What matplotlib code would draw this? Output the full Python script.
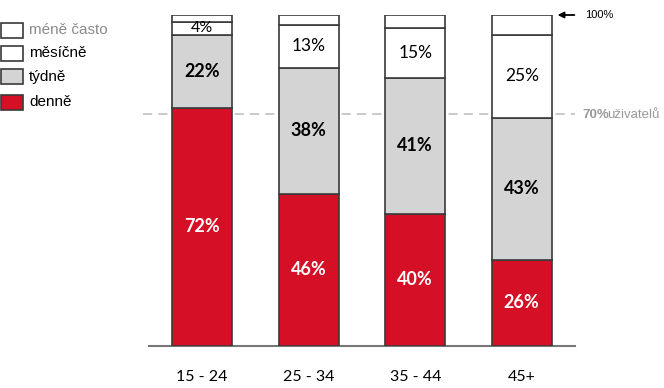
import matplotlib
matplotlib.use("Agg")
import matplotlib.pyplot as plt
from matplotlib.patches import Rectangle
import numpy as np

# data (percent of users)
groups = ["15 - 24", "25 - 34", "35 - 44", "45+"]
denne = [72, 46, 40, 26]
tydne = [22, 38, 41, 43]
mesicne = [4, 13, 15, 25]
mene_casto = [2, 3, 4, 6]

series_names = ["méně často", "měsíčně", "týdně", "denně"]

RED = "#D50F25"
GRAY = "#D4D4D4"
EDGE = "#3a3a3a"
LABEL_FONT = ["Lato", "DejaVu Sans"]
SANS = ["Liberation Sans", "DejaVu Sans"]

W, H = 664, 388
fig = plt.figure(figsize=(W / 100, H / 100), dpi=100)

# axes placed in pixel terms: x 149..575, y 15..346 (from top)
ax = fig.add_axes([149 / W, (H - 346) / H, (575 - 149) / W, (346 - 15) / H])
ax.set_xlim(-0.5, 3.5)
ax.set_ylim(0, 100)

x = np.arange(len(groups))
bw = 0.56
stack = [(denne, RED), (tydne, GRAY), (mesicne, "white"), (mene_casto, "white")]
bottom = np.zeros(len(groups))
for vals, col in stack:
    ax.bar(x, vals, bw, bottom=bottom, color=col, edgecolor=EDGE, linewidth=1.2, zorder=3)
    bottom += np.array(vals)

# labels inside segments
for i in range(len(groups)):
    ax.text(x[i], denne[i] / 2, f"{denne[i]}%", ha="center", va="center", color="white",
            fontsize=13, fontweight="bold", family=LABEL_FONT, zorder=5)
    ax.text(x[i], denne[i] + tydne[i] / 2, f"{tydne[i]}%", ha="center", va="center", color="black",
            fontsize=13, fontweight="bold", family=LABEL_FONT, zorder=5)
    ax.text(x[i], denne[i] + tydne[i] + mesicne[i] / 2, f"{mesicne[i]}%", ha="center", va="center",
            color="black", fontsize=12.5 if mesicne[i] > 5 else 11.5, family=LABEL_FONT, zorder=5)

# 70% reference line
ax.plot([-0.56, 3.5], [70, 70], color="#BBBBBB", lw=1.1, ls=(0, (6, 4)), zorder=1, clip_on=False)
fig.text(582 / W, (H - 115) / H, "70%", color="#999999", fontsize=9.5, fontweight="bold",
         va="center", ha="left", family=SANS)
fig.text(607 / W, (H - 115) / H, "uživatelů", color="#999999", fontsize=9.5,
         va="center", ha="left", family=SANS)

# 100% arrow
ax.annotate("", xy=(3.31, 100), xytext=(3.52, 100),
            arrowprops=dict(arrowstyle="-|>", color="black", lw=1.3, mutation_scale=9), annotation_clip=False)
fig.text(585 / W, (H - 15) / H, "100%", fontsize=8, va="center", ha="left", family=SANS)

for s in ["top", "right", "left"]:
    ax.spines[s].set_visible(False)
ax.spines["bottom"].set_color("#777777")
ax.spines["bottom"].set_linewidth(1.5)
ax.set_yticks([])
ax.set_xticks(x)
ax.set_xticklabels(groups, fontsize=11.5, family=LABEL_FONT)
ax.tick_params(axis="x", length=0, pad=17)

# legend drawn by hand at the top left
legend_colors = ["white", "white", GRAY, RED]
legend_text_colors = ["#8a8a8a", "black", "black", "black"]
rows_y = [30, 53, 76.5, 102]
for name, fc, tc, yc in zip(series_names, legend_colors, legend_text_colors, rows_y):
    fig.patches.append(Rectangle((1 / W, (H - yc - 7.5) / H), 22 / W, 15 / H, transform=fig.transFigure,
                                 facecolor=fc, edgecolor=EDGE, linewidth=1.2))
    fig.text(29 / W, (H - yc) / H, name, color=tc, fontsize=11, va="center", ha="left", family=SANS)

fig.savefig("out.png", dpi=100)
